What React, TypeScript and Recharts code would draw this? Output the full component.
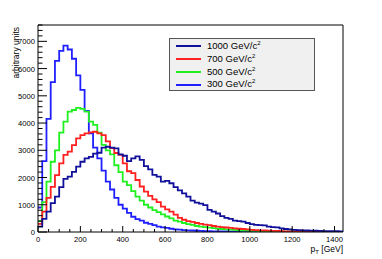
import React from "react";
import { LineChart, Line, XAxis, YAxis, ReferenceLine } from "recharts";

// histogram bin low edges (GeV), 20 GeV wide, plus the closing edge
const binLow = Array.from({ length: 73 }, (_, i) => i * 20);

const m1000 = [
	200, 480, 750, 1060, 1300, 1650, 1950, 2030, 2210, 2400,
	2580, 2700, 2760, 2880, 2910, 3100, 3130, 3100, 3070, 2850,
	2800, 2600, 2700, 2780, 2650, 2420, 2300, 2100, 2030, 1850,
	1880, 1790, 1650, 1530, 1420, 1300, 1150, 1080, 1040, 990,
	810, 750, 680, 580, 520, 480, 420, 400, 380, 330,
	290, 260, 250, 240, 200, 180, 170, 130, 110, 100,
	80, 70, 60, 55, 50, 45, 40, 35, 32, 30,
	28, 25,
];
const m700 = [
	300, 750, 1250, 1660, 2090, 2520, 2830, 2950, 3190, 3440,
	3560, 3620, 3660, 3680, 3620, 3560, 3330, 3080, 2900, 2830,
	2520, 2230, 2160, 1910, 1670, 1480, 1330, 1200, 1100, 930,
	830, 750, 640, 520, 450, 400, 370, 330, 300, 270,
	250, 220, 200, 180, 165, 150, 135, 120, 110, 95,
	80, 70, 60, 55, 50, 42, 38, 30, 25, 22,
	18, 15, 12, 10, 9, 8, 7, 6, 5, 4,
	4, 3,
];
const m500 = [
	400, 1100, 1850, 2580, 3000, 3650, 4050, 4420, 4480, 4560,
	4520, 4420, 4050, 3930, 3650, 3200, 3000, 2850, 2450, 2200,
	1850, 1720, 1500, 1300, 1150, 1000, 900, 800, 730, 650,
	570, 500, 420, 380, 330, 290, 260, 220, 200, 180,
	160, 140, 125, 110, 95, 85, 75, 65, 55, 50,
	45, 40, 35, 30, 27, 24, 21, 18, 16, 14,
	12, 10, 9, 8, 7, 6, 5, 4, 4, 3,
	3, 2,
];
const m300 = [
	900, 2600, 4150, 5500, 6280, 6650, 6840, 6700, 6360, 5750,
	5220, 4450, 3620, 3100, 2700, 2250, 1850, 1560, 1250, 1000,
	860, 700, 560, 470, 420, 340, 300, 250, 200, 170,
	150, 120, 100, 85, 70, 60, 55, 45, 40, 35,
	30, 25, 22, 20, 18, 15, 12, 10, 9, 8,
	7, 6, 5, 5, 4, 4, 3, 3, 3, 2,
	2, 2, 2, 1, 1, 1, 1, 1, 1, 1,
	1, 1,
];

const xTicks = Array.from({ length: 29 }, (_, i) => i * 50);
const yTicks = Array.from({ length: 39 }, (_, i) => i * 200);
const xLabels = [0, 200, 400, 600, 800, 1000, 1200, 1400];
const yLabels = [0, 1000, 2000, 3000, 4000, 5000, 6000, 7000];

const series = [
	{ key: "m1000", mass: "1000", color: "#10109a", values: m1000 },
	{ key: "m700", mass: "700", color: "#ff2020", values: m700 },
	{ key: "m500", mass: "500", color: "#20f020", values: m500 },
	{ key: "m300", mass: "300", color: "#2020ff", values: m300 },
];

const data = binLow.map((x, i) => {
	const row: Record<string, number> = { x };
	for (const s of series) row[s.key] = s.values[Math.min(i, s.values.length - 1)];
	return row;
});

const FONT = "'Liberation Sans', Arial, sans-serif";

function XTick(props: any) {
	const { x, y, payload } = props;
	const v = payload.value;
	const major = v % 200 === 0;
	return (
		<g>
			<line x1={x} x2={x} y1={y} y2={y - (major ? 6 : 3)} stroke="#000" />
			{xLabels.includes(v) && (
				<text x={x} y={y + 9.5} textAnchor="middle" fontSize={7.6} fill="#000" fontFamily={FONT}>
					{v}
				</text>
			)}
		</g>
	);
}

function YTick(props: any) {
	const { x, y, payload } = props;
	const v = payload.value;
	const major = v % 1000 === 0;
	return (
		<g>
			<line x1={x} x2={x + (major ? 9 : 4.5)} y1={y} y2={y} stroke="#000" />
			{yLabels.includes(v) && (
				<text x={x - 3} y={y + 3} textAnchor="end" fontSize={7.6} fill="#000" fontFamily={FONT}>
					{v}
				</text>
			)}
		</g>
	);
}

export default function App() {
	return (
		<div
			style={{
				position: "absolute",
				left: 0,
				top: 0,
				width: 382,
				height: 259,
				background: "#fff",
				fontFamily: FONT,
			}}
		>
			<LineChart
				width={382}
				height={259}
				data={data}
				margin={{ top: 25, right: 39, left: 0, bottom: 0 }}
			>
				<XAxis
					dataKey="x"
					type="number"
					domain={[0, 1440]}
					ticks={xTicks}
					interval={0}
					tickSize={0}
					tickMargin={0}
					tick={<XTick />}
					height={27}
					axisLine={{ stroke: "#000" }}
					allowDataOverflow
				/>
				<YAxis
					type="number"
					domain={[0, 7600]}
					ticks={yTicks}
					interval={0}
					tickSize={0}
					tickMargin={0}
					tick={<YTick />}
					width={38}
					axisLine={{ stroke: "#000" }}
					allowDataOverflow
				/>
				<ReferenceLine y={7600} stroke="#000" ifOverflow="visible" />
				<ReferenceLine x={1440} stroke="#000" ifOverflow="visible" />
				{[...series].reverse().map((s) => (
					<Line
						key={s.key}
						dataKey={s.key}
						type="stepAfter"
						stroke={s.color}
						strokeWidth={1.8}
						dot={false}
						isAnimationActive={false}
					/>
				))}
			</LineChart>
			<svg
				width={382}
				height={259}
				style={{ position: "absolute", left: 0, top: 0, pointerEvents: "none" }}
			>
				<text
					transform="rotate(-90)"
					x={-27}
					y={19}
					textAnchor="end"
					fontSize={8.5}
					fontFamily={FONT}
				>
					arbitrary units
				</text>
				<text x={343} y={252} textAnchor="end" fontSize={8.5} fontFamily={FONT}>
					p
					<tspan dy={2} fontSize={6}>
						T
					</tspan>
					<tspan dy={-2}> [GeV]</tspan>
				</text>
			</svg>
			<div
				style={{
					position: "absolute",
					left: 169,
					top: 38,
					width: 146,
					height: 53,
					background: "#f0f0f0",
					border: "1px solid #555",
					boxSizing: "border-box",
				}}
			>
				{series.map((s, i) => (
					<div
						key={s.key}
						style={{
							position: "absolute",
							left: 6,
							top: 1 + i * 12.8,
							height: 12.8,
							display: "flex",
							alignItems: "center",
						}}
					>
						<div style={{ width: 25, height: 2, background: s.color }} />
						<span style={{ marginLeft: 6, fontSize: 9.5, lineHeight: "12px", whiteSpace: "nowrap" }}>
							{s.mass} GeV/c
							<span style={{ fontSize: 6, position: "relative", top: -4 }}>2</span>
						</span>
					</div>
				))}
			</div>
		</div>
	);
}
